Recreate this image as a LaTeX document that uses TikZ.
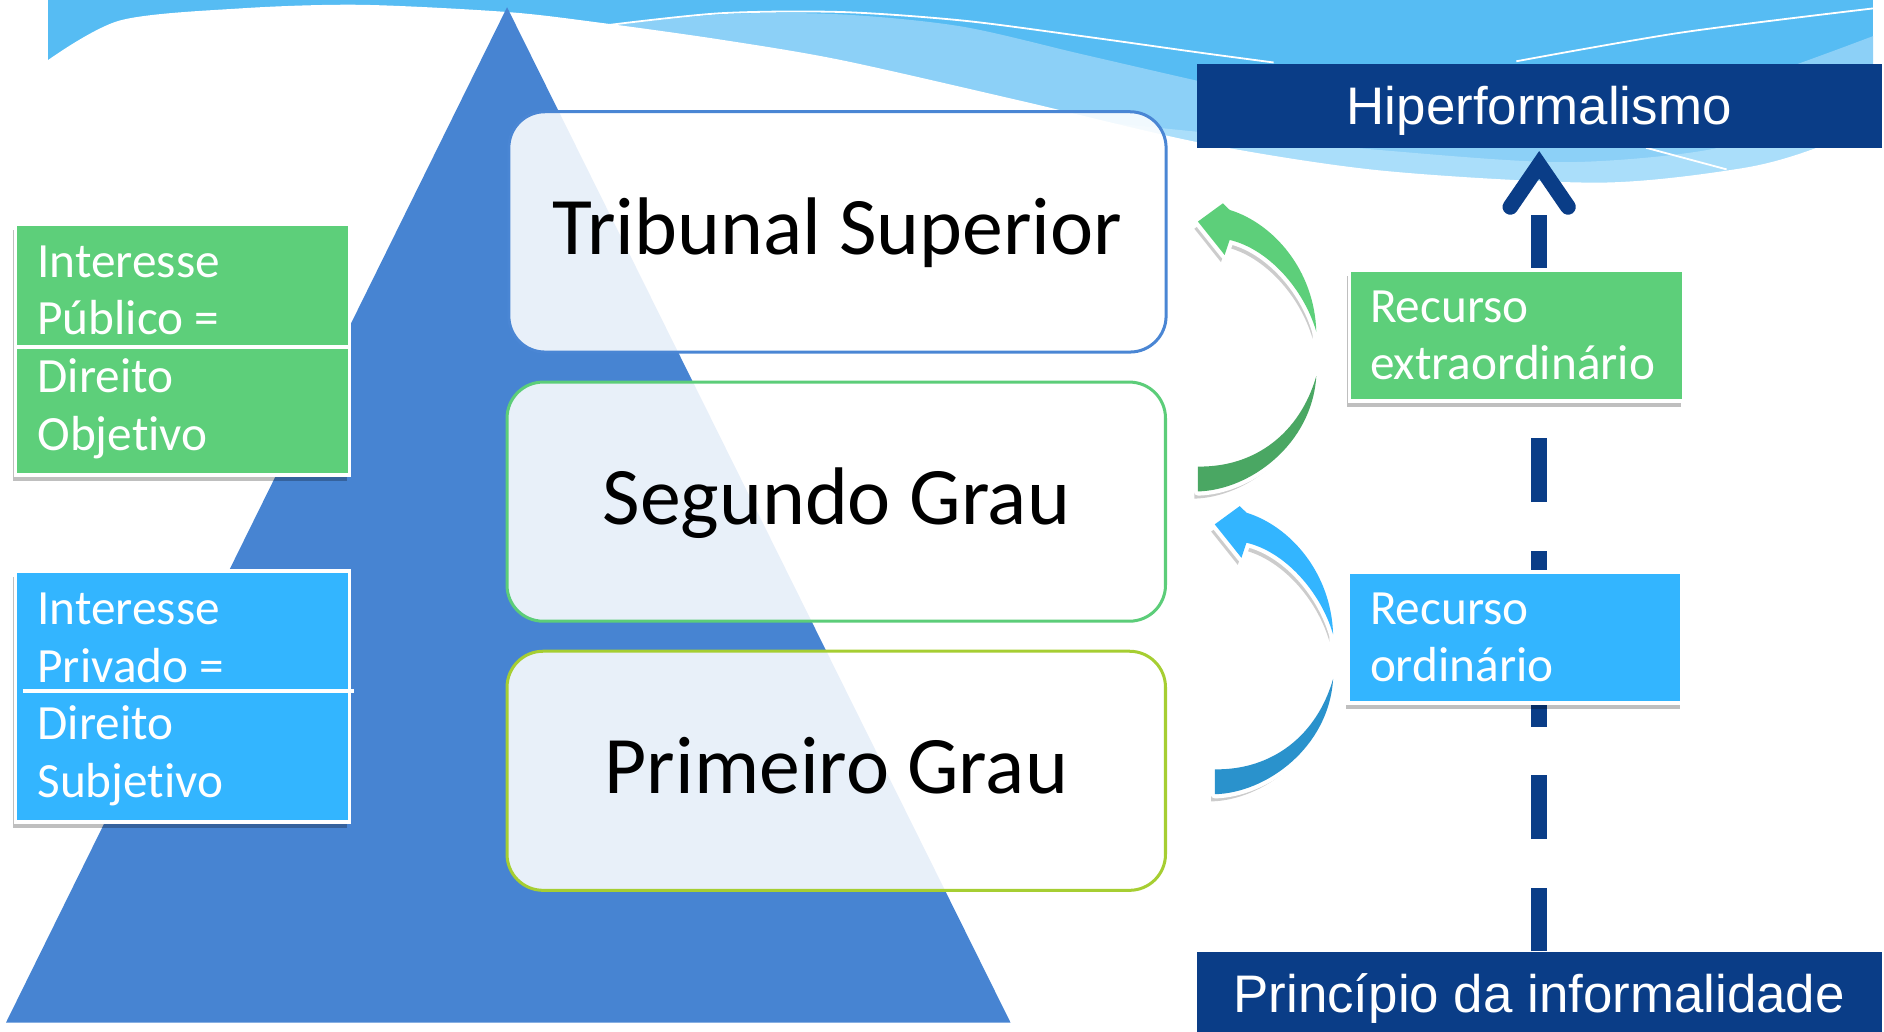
\documentclass[tikz,border=0pt]{standalone}
\usepackage{fontspec}
\setmainfont{Carlito}[Ligatures=NoCommon]
\newfontfamily\arialf{Liberation Sans}
\usetikzlibrary{calc}
\definecolor{bandblue}{RGB}{86,188,243}
\definecolor{bandlight}{RGB}{140,208,247}
\definecolor{bandlightest}{RGB}{170,222,250}
\definecolor{pyr}{RGB}{71,132,210}
\definecolor{tribc}{RGB}{74,134,212}
\definecolor{segc}{RGB}{92,205,121}
\definecolor{primc}{RGB}{166,206,50}
\definecolor{gfill}{RGB}{93,207,122}
\definecolor{gdark}{RGB}{74,167,99}
\definecolor{bfill}{RGB}{51,181,255}
\definecolor{bdark}{RGB}{42,146,204}
\definecolor{navy}{RGB}{10,61,135}
\newcommand\mydarkpath{(997,409) .. controls (1040,408) and (1092,370) .. (1095.5,313) .. controls (1082,360) and (1045,389) .. (997,388.3) -- cycle}
\newcommand\mylightpath{(997,184.4) -- (1017.8,169.2) -- (1023.4,174.7) .. controls (1060,186) and (1094,225) .. (1095.5,276) .. controls (1085,240) and (1055,207) .. (1023.4,199.7) -- (1019.2,212.2) -- cycle}
\newcommand\myshadowpaths[1]{%
  \begin{scope}[shift={#1}]
    \fill[black, opacity=0.2, shift={(-3,6)}] \mydarkpath;
    \fill[black, opacity=0.2, shift={(-3,6)}] \mylightpath;
  \end{scope}}
\newcommand\mycurvarrow[3]{%
  \begin{scope}[shift={#1}]
    \draw[white, line width=7pt, line join=round] \mydarkpath;
    \draw[white, line width=7pt, line join=round] \mylightpath;
    \fill[#3] \mydarkpath;
    \fill[#2] \mylightpath;
  \end{scope}}
\begin{document}
\begin{tikzpicture}[x=1pt,y=-1pt,
  tier/.style={rectangle, rounded corners=30pt, line width=2.5pt, fill=white, fill opacity=0.88, text opacity=1, inner sep=0pt, font=\fontsize{68}{80}\selectfont, text height=43pt, text depth=5pt},
  cbox/.style={rectangle, draw=white, line width=3pt, inner sep=0pt},
  boxshadow/.style={fill=black, opacity=0.25, inner sep=0pt, rectangle},
  ctext/.style={text=white, align=left, inner sep=0pt, anchor=north west, font=\fontsize{41}{48}\selectfont},
  navybox/.style={rectangle, fill=navy, inner sep=0pt, text=white, font=\arialf\fontsize{44}{52}\selectfont, text height=31.5pt, text depth=0pt, minimum width=570pt, minimum height=70pt},
  dashconn/.style={draw=navy, line width=13pt, dash pattern=on 53pt off 40.5pt},
  chev/.style={draw=navy, line width=13pt, line cap=round, line join=miter},
  thinw/.style={draw=white, line width=1.5pt}
]
\useasboundingbox (0,0) rectangle (1568,858.1);
% background waves
\fill[bandblue] (40,0) rectangle (1559,170);
\fill[bandlight] plot[smooth] coordinates {(430,40) (480,25) (600,12) (700,12) (800,22) (900,45) (1000,68) (1100,90) (1250,108) (1400,85) (1559,30)} -- (1559,170) -- (430,170) -- cycle;
\fill[bandlightest] plot[smooth] coordinates {(900,100) (1000,110) (1150,125) (1300,135) (1420,125) (1500,100) (1559,75)} -- (1559,170) -- (900,170) -- cycle;
\fill[white] (0,60) -- plot[smooth] coordinates {(40,50) (100,17) (200,7) (300,4) (422,10) (500,19) (600,33) (700,50) (850,84) (1000,119) (1150,142) (1331,152) (1450,140) (1512,123) (1559,100)} -- (1568,100) -- (1568,200) -- (0,200) -- cycle;
\draw[thinw] plot[smooth] coordinates {(505,21) (600,11) (700,10) (800,17) (900,30) (1000,44) (1060,52)};
\draw[thinw] plot[smooth] coordinates {(1262,51) (1400,27) (1559,7)};
\draw[thinw] (1370,123) -- (1437,141);
% pyramid
\fill[pyr] (422,6) -- (841,851) -- (5,851) -- cycle;
% left boxes
\node[boxshadow, minimum width=278pt, minimum height=209pt] at (150,296) {};
\node[cbox, fill=gfill, minimum width=278pt, minimum height=209pt] (pub) at (152,291) {};
\draw[white, line width=3pt] (12.5,289) -- (291,289);
\node[ctext] (pubtxt) at (31,204.1) {Interesse\\Público =\\Direito\\Objetivo};
\node[boxshadow, minimum width=278pt, minimum height=209pt] at (150,584.5) {};
\node[cbox, fill=bfill, minimum width=278pt, minimum height=209pt] (priv) at (152,579.5) {};
\draw[white, line width=3pt] (19,575) -- (295,575);
\node[ctext] (privtxt) at (31,493.1) {Interesse\\Privado =\\Direito\\Subjetivo};
% tiers
\node[tier, draw=tribc, minimum width=547pt, minimum height=200pt] (trib) at (697,193) {Tribunal Superior};
\node[tier, draw=segc, minimum width=548pt, minimum height=199pt] (seg) at (696,417.5) {Segundo Grau};
\node[tier, draw=primc, minimum width=548pt, minimum height=199pt] (prim) at (696,641.5) {Primeiro Grau};
% curved arrows
\myshadowpaths{(0,0)}
\myshadowpaths{(14,252)}
\mycurvarrow{(0,0)}{gfill}{gdark}
\mycurvarrow{(14,252)}{bfill}{bdark}
% right column
\node[navybox] (hiper) at (1281,88) {Hiperformalismo};
\node[navybox] (princ) at (1281,827) {Princípio da informalidade};
\coordinate (tipbase) at (1281,179);
\draw[dashconn] (princ.north) -- (tipbase);
\draw[chev] ($(hiper.south)+(-24,49)$) -- ($(hiper.south)+(0,14)$) -- ($(hiper.south)+(24,49)$);
\node[boxshadow, minimum width=278pt, minimum height=109pt] at (1260,284) {};
\node[cbox, fill=gfill, minimum width=278pt, minimum height=109pt] (rext) at (1262,279) {};
\node[ctext] (rexttxt) at (1140,241.7) {Recurso\\extraordinário};
\node[boxshadow, minimum width=278pt, minimum height=109pt] at (1259,535.5) {};
\node[cbox, fill=bfill, minimum width=278pt, minimum height=109pt] (rord) at (1261,530.5) {};
\node[ctext] (rordtxt) at (1140,493.1) {Recurso\\ordinário};
\end{tikzpicture}
\end{document}
